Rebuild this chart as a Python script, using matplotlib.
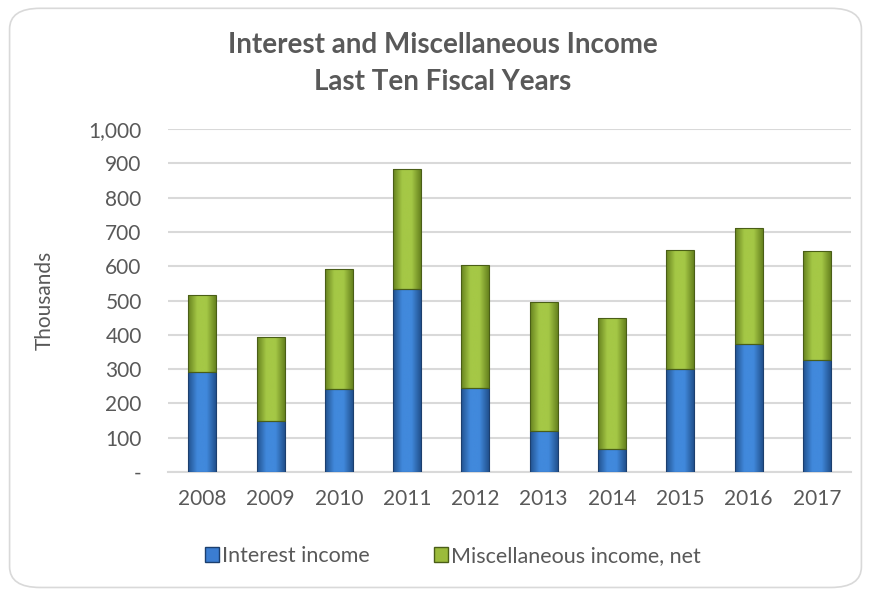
import matplotlib.pyplot as plt
import numpy as np
from matplotlib.colors import LinearSegmentedColormap
from matplotlib.patches import FancyBboxPatch
from matplotlib.ticker import FuncFormatter, MultipleLocator

years = ['2008', '2009', '2010', '2011', '2012', '2013', '2014', '2015', '2016', '2017']
interest_income = [291, 150, 243, 533, 244, 119, 68, 300, 374, 326]
misc_income_total = [516, 394, 591, 882, 603, 495, 448, 647, 710, 644]
misc_income = [t - i for t, i in zip(misc_income_total, interest_income)]

title = 'Interest and Miscellaneous Income\nLast Ten Fiscal Years'
series_names = ['Interest income', 'Miscellaneous income, net']

plt.rcParams['font.family'] = ['Lato', 'DejaVu Sans']
text_color = '#595959'

fig = plt.figure(figsize=(8.71, 5.94), dpi=100)

# rounded chart border, behind everything
fig.patches.append(FancyBboxPatch((0.011, 0.011), 0.978, 0.975,
                                  boxstyle='round,pad=0,rounding_size=0.035',
                                  transform=fig.transFigure, facecolor='white',
                                  edgecolor='#d9d9d9', linewidth=1.2, zorder=-5))

ax = fig.add_axes([0.193, 0.2054, 0.784, 0.5774], zorder=2)
ax.patch.set_alpha(0)

x = np.arange(len(years))
width = 0.41


def shade_bars(bars, dark, light):
    # horizontal gradient clipped to each bar
    cmap = LinearSegmentedColormap.from_list('g', [dark, light, light, dark])
    grad = np.linspace(0, 1, 64).reshape(1, -1)
    for b in bars:
        x0, y0 = b.get_x(), b.get_y()
        im = ax.imshow(grad, cmap=cmap, extent=(x0, x0 + b.get_width(), y0, y0 + b.get_height()),
                       aspect='auto', zorder=3, interpolation='bicubic')
        im.set_clip_path(b)


blue_bars = ax.bar(x, interest_income, width, color='#3b7dd1', edgecolor='#1c3f6e',
                   linewidth=0.8, zorder=3)
green_bars = ax.bar(x, misc_income, width, bottom=interest_income, color='#9bbb3b',
                    edgecolor='#4a5e17', linewidth=0.8, zorder=3)
shade_bars(blue_bars, '#22528f', '#4189dc')
shade_bars(green_bars, '#67831f', '#a5c846')
for b in list(blue_bars) + list(green_bars):
    b.set_facecolor('none')
    b.set_zorder(4)

ax.set_xlim(-0.5, len(years) - 0.5)
ax.set_ylim(0, 1000)
ax.yaxis.set_major_locator(MultipleLocator(100))
ax.yaxis.set_major_formatter(FuncFormatter(lambda v, p: '-' if v == 0 else f'{int(v):,}'))
ax.set_xticks(x)
ax.set_xticklabels(years)

ax.grid(axis='y', color='#d9d9d9', linewidth=1.5, zorder=0)
ax.set_axisbelow(True)
for side in ['top', 'right', 'left']:
    ax.spines[side].set_visible(False)
ax.spines['bottom'].set_color('#d9d9d9')
ax.spines['bottom'].set_linewidth(1.5)
ax.tick_params(length=0, labelsize=15, colors=text_color, pad=12)
ax.tick_params(axis='y', pad=19)
ax.set_ylabel('Thousands', fontsize=15, color=text_color, labelpad=24)

fig.text(0.508, 0.893, title, ha='center', va='center', fontsize=20,
         fontweight='bold', color=text_color, linespacing=1.5)

handles = [plt.Rectangle((0, 0), 1, 1, facecolor='#3b7dd1', edgecolor='#1c3f6e'),
           plt.Rectangle((0, 0), 1, 1, facecolor='#9bbb3b', edgecolor='#4a5e17')]
fig.legend(handles, series_names, loc='center', bbox_to_anchor=(0.52, 0.064), ncol=2,
           frameon=False, fontsize=15.5, handlelength=0.65, handleheight=0.65,
           handletextpad=0.15, columnspacing=3.0, labelcolor=text_color)

fig.savefig('out.png', dpi=100)
